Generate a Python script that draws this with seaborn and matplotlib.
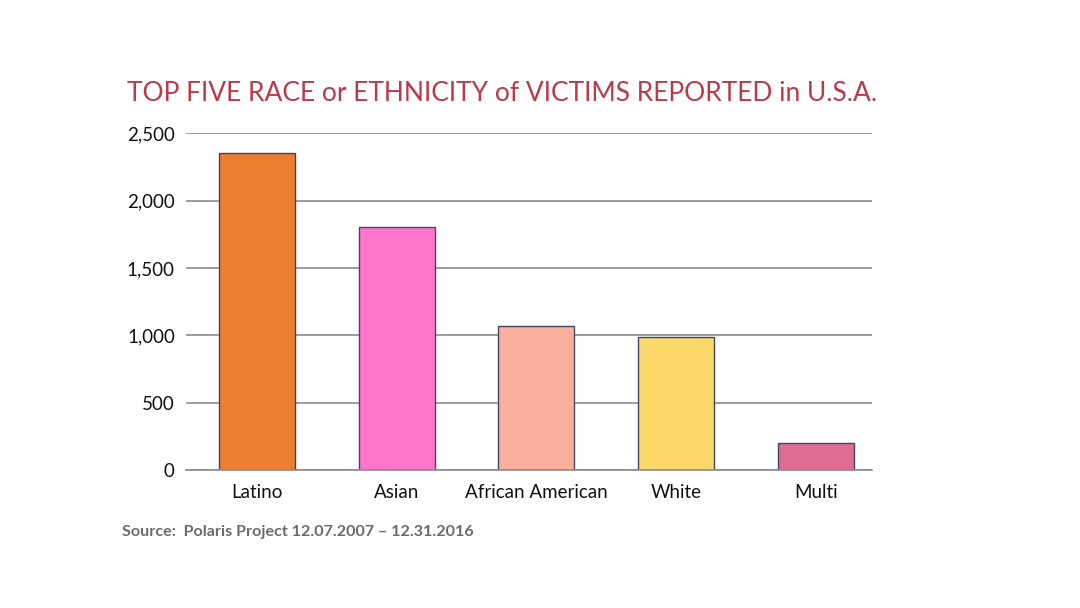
import matplotlib
matplotlib.use("Agg")
import matplotlib.pyplot as plt
import seaborn as sns
import pandas as pd

categories = ["Latino", "Asian", "African American", "White", "Multi"]
victims = [2350, 1805, 1068, 987, 198]
bar_colors = ["#ED7D31", "#FF77CC", "#F8B09C", "#FCD86A", "#E06C94"]
y_ticks = [0, 500, 1000, 1500, 2000, 2500]

sns.set_style("white")
plt.rcParams["font.family"] = ["Lato", "DejaVu Sans"]

data = pd.DataFrame({"Race": categories, "Victims": victims})

fig = plt.figure(figsize=(10.8, 6.08), dpi=100)
ax = fig.add_axes([0.1722, 0.227, 0.635, 0.554])

sns.barplot(data=data, x="Race", y="Victims", hue="Race", palette=bar_colors,
            saturation=1, width=0.544, edgecolor="#3F4468", linewidth=1.0,
            legend=False, ax=ax)

ax.set_ylim(0, 2500)
ax.set_xlim(-0.508, 4.40)
ax.set_yticks(y_ticks)
ax.set_yticklabels([f"{v:,}" for v in y_ticks])
ax.yaxis.grid(True, color="#8C8C8C", linewidth=1.2)
ax.set_axisbelow(True)
for s in ["top", "right", "left"]:
    ax.spines[s].set_visible(False)
ax.spines["bottom"].set_color("#8C8C8C")
ax.spines["bottom"].set_linewidth(1.2)
ax.tick_params(axis="both", length=0, labelsize=13.5, colors="#111111")
ax.tick_params(axis="y", pad=8)
ax.tick_params(axis="x", pad=10)
ax.set_xlabel("")
ax.set_ylabel("")

fig.text(0.118, 0.834, "TOP FIVE RACE or ETHNICITY of VICTIMS REPORTED in U.S.A.",
         fontsize=19, color="#B83A4B", va="baseline")
fig.text(0.113, 0.118, "Source:  Polaris Project 12.07.2007 \u2013 12.31.2016",
         fontsize=11.6, color="#6B6B6B", fontweight="bold", va="baseline")

fig.savefig("out.png", dpi=100)
